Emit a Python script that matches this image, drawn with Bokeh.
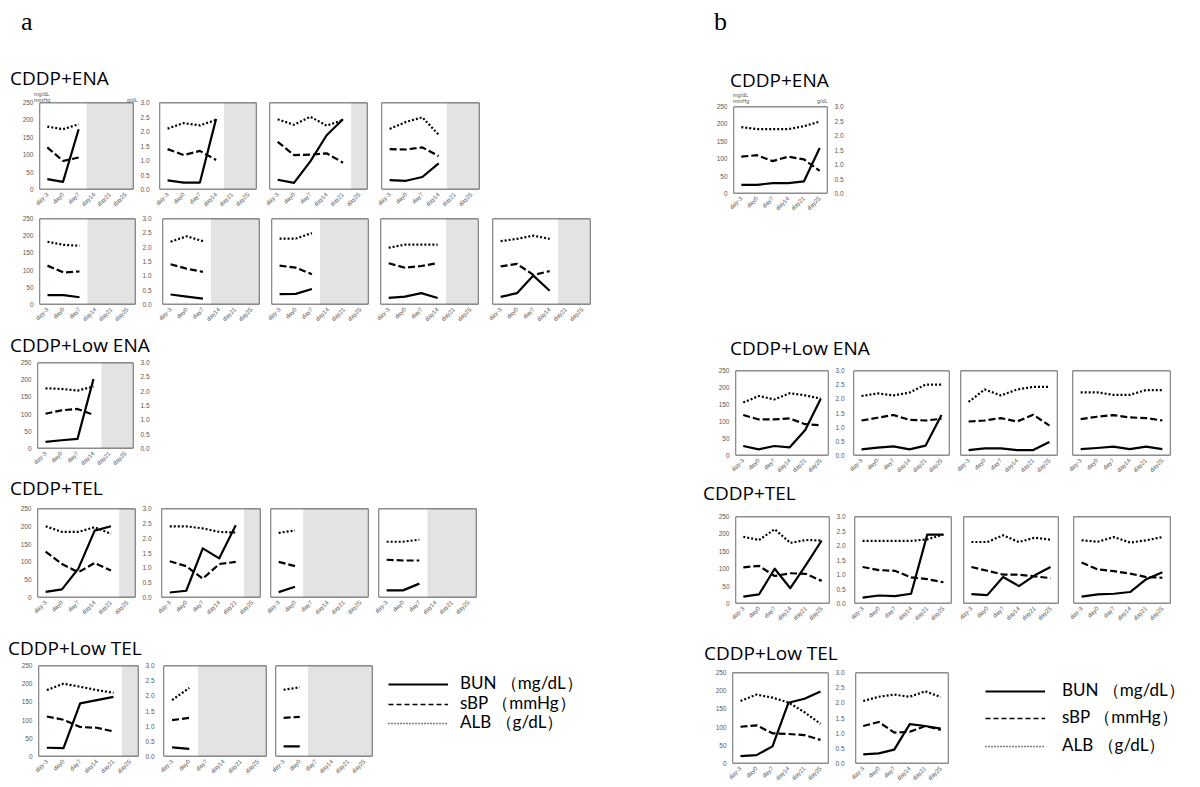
import math
from bokeh.plotting import figure
from bokeh.models import (Range1d, FactorRange, LinearAxis, FixedTicker, NumeralTickFormatter,
                          BoxAnnotation, Div, Spacer, Legend, LegendItem)
from bokeh.layouts import row, column
from bokeh.embed import file_html
from bokeh.resources import INLINE

# ---------------- data ----------------
DAYS = ["day-3", "day0", "day7", "day14", "day21", "day25"]
BUN_TICKS = [0, 50, 100, 150, 200, 250]
ALB_TICKS = [0.0, 0.5, 1.0, 1.5, 2.0, 2.5, 3.0]
LEGEND_LABELS = ["BUN （mg/dL）", "sBP （mmHg）", "ALB （g/dL）"]
UNIT_LEFT = ["mg/dL", "mmHg"]
UNIT_RIGHT = "g/dL"
PANEL_TAGS = ["a", "b"]
GROUPS = ["CDDP+ENA", "CDDP+Low ENA", "CDDP+TEL", "CDDP+Low TEL"]

# panel a, CDDP+ENA (9 animals)
a_ena1_bun = [30, 22, 173];            a_ena1_sbp = [121, 82, 92];            a_ena1_alb = [2.17, 2.08, 2.25]
a_ena2_bun = [26, 20, 20, 203];        a_ena2_sbp = [116, 99, 111, 85];       a_ena2_alb = [2.10, 2.29, 2.21, 2.40]
a_ena3_bun = [28, 19, 81, 156, 202];   a_ena3_sbp = [137, 99, 100, 104, 77];  a_ena3_alb = [2.42, 2.23, 2.51, 2.20, 2.40]
a_ena4_bun = [27, 25, 36, 75];         a_ena4_sbp = [116, 115, 121, 96];      a_ena4_alb = [2.09, 2.33, 2.49, 1.89]
a_ena5_bun = [27, 27, 21];             a_ena5_sbp = [113, 93, 96];            a_ena5_alb = [2.19, 2.08, 2.05]
a_ena6_bun = [29, 23, 17];             a_ena6_sbp = [117, 104, 95];           a_ena6_alb = [2.19, 2.38, 2.21]
a_ena7_bun = [30, 31, 45];             a_ena7_sbp = [113, 107, 88];           a_ena7_alb = [2.30, 2.30, 2.49]
a_ena8_bun = [19, 23, 33, 19];         a_ena8_sbp = [120, 107, 112, 120];     a_ena8_alb = [1.98, 2.09, 2.09, 2.09]
a_ena9_bun = [22, 33, 84, 40];         a_ena9_sbp = [111, 118, 86, 97];       a_ena9_alb = [2.21, 2.29, 2.40, 2.29]
# panel a, CDDP+Low ENA
a_lena1_bun = [19, 24, 28, 202];       a_lena1_sbp = [101, 111, 115, 98];     a_lena1_alb = [2.10, 2.08, 2.02, 2.16]
# panel a, CDDP+TEL
a_tel1_bun = [16, 23, 81, 188, 200];   a_tel1_sbp = [129, 94, 71, 97, 76];    a_tel1_alb = [2.40, 2.21, 2.21, 2.37, 2.15]
a_tel2_bun = [14, 19, 138, 110, 203];  a_tel2_sbp = [102, 88, 53, 94, 100];   a_tel2_alb = [2.40, 2.40, 2.33, 2.21, 2.19]
a_tel3_bun = [15, 30];                 a_tel3_sbp = [100, 88];                a_tel3_alb = [2.18, 2.26]
a_tel4_bun = [20, 20, 39];             a_tel4_sbp = [106, 104, 104];          a_tel4_alb = [1.88, 1.88, 1.95]
# panel a, CDDP+Low TEL
a_ltel1_bun = [24, 23, 146, 155, 164]; a_ltel1_sbp = [110, 101, 81, 79, 69];  a_ltel1_alb = [2.19, 2.40, 2.30, 2.19, 2.10]
a_ltel2_bun = [25, 21];                a_ltel2_sbp = [100, 106];              a_ltel2_alb = [1.86, 2.26]
a_ltel3_bun = [28, 28];                a_ltel3_sbp = [106, 109];              a_ltel3_alb = [2.20, 2.28]

# panel b
b_ena1_bun = [25, 25, 30, 30, 35, 131];     b_ena1_sbp = [106, 110, 93, 106, 98, 65];    b_ena1_alb = [2.29, 2.22, 2.22, 2.22, 2.32, 2.48]
b_lena1_bun = [28, 18, 28, 24, 75, 167];    b_lena1_sbp = [119, 106, 106, 109, 92, 89];  b_lena1_alb = [1.87, 2.10, 1.98, 2.20, 2.12, 2.01]
b_lena2_bun = [18, 23, 27, 18, 29, 119];    b_lena2_sbp = [103, 111, 119, 105, 103, 108]; b_lena2_alb = [2.10, 2.19, 2.12, 2.22, 2.50, 2.50]
b_lena3_bun = [16, 21, 21, 16, 16, 40];     b_lena3_sbp = [100, 103, 110, 100, 120, 88]; b_lena3_alb = [1.89, 2.33, 2.12, 2.33, 2.42, 2.42]
b_lena4_bun = [19, 22, 26, 19, 26, 19];     b_lena4_sbp = [107, 114, 119, 112, 110, 103]; b_lena4_alb = [2.23, 2.23, 2.14, 2.14, 2.31, 2.31]
b_tel1_bun = [20, 26, 100, 44, 111, 181];   b_tel1_sbp = [104, 108, 79, 87, 85, 65];     b_tel1_alb = [2.30, 2.19, 2.56, 2.09, 2.19, 2.17]
b_tel2_bun = [17, 23, 21, 28, 198, 198];    b_tel2_sbp = [105, 96, 94, 75, 70, 61];      b_tel2_alb = [2.16, 2.16, 2.16, 2.16, 2.21, 2.38]
b_tel3_bun = [27, 24, 76, 50, 81, 105];     b_tel3_sbp = [105, 94, 83, 83, 78, 73];      b_tel3_alb = [2.12, 2.12, 2.35, 2.12, 2.27, 2.20]
b_tel4_bun = [20, 26, 28, 33, 70, 90];      b_tel4_sbp = [118, 98, 93, 86, 76, 74];      b_tel4_alb = [2.18, 2.13, 2.29, 2.10, 2.18, 2.29]
b_ltel1_bun = [20, 23, 47, 167, 178, 198];  b_ltel1_sbp = [101, 105, 83, 81, 78, 65];    b_ltel1_alb = [2.06, 2.27, 2.17, 2.01, 1.69, 1.31]
b_ltel2_bun = [25, 28, 38, 108, 103, 96];   b_ltel2_sbp = [103, 114, 85, 87, 103, 92];   b_ltel2_alb = [2.06, 2.20, 2.27, 2.20, 2.38, 2.19]

# ---------------- styles ----------------
TICK_FONT = "Liberation Sans"
TICK_COLOR = "#595959"
LINE_W = 2.2
SHADE = "#e3e3e3"
FRAME_COLOR = "#1a1a1a"
TITLE_FONT = "'Open Sans', sans-serif"
TAG_FONT = "'Liberation Serif', serif"
NAN = float("nan")
LEGEND_SHIFT = 24  # empirical correction of the legend anchor


def style_axis(ax, size):
    ax.axis_line_color = None
    ax.major_tick_line_color = None
    ax.minor_tick_line_color = None
    ax.major_tick_out = 0
    ax.major_tick_in = 0
    ax.minor_tick_out = 0
    ax.minor_tick_in = 0
    ax.major_label_text_font = TICK_FONT
    ax.major_label_text_font_size = size
    ax.major_label_text_color = TICK_COLOR


def panel(series, frame, x0, x1, top, h, axes=False):
    bun, sbp, alb = series
    l, t, r, b = frame
    n = len(bun)
    p = figure(width=x1 - x0, height=h,
               x_range=FactorRange(factors=DAYS, range_padding=0, factor_padding=0),
               y_range=Range1d(BUN_TICKS[0], BUN_TICKS[-1]),
               min_border_left=l - x0, min_border_right=x1 - r,
               min_border_top=t - top, min_border_bottom=top + h - b,
               y_axis_location="left" if axes else None,
               output_backend="svg", toolbar_location=None)
    p.extra_y_ranges = {"alb": Range1d(ALB_TICKS[0], ALB_TICKS[-1])}
    p.outline_line_color = None
    p.border_fill_color = None
    p.background_fill_color = "white"
    p.xgrid.visible = False
    p.ygrid.visible = False

    xa = p.xaxis[0]
    style_axis(xa, "6px")
    xa.major_label_orientation = math.pi / 4
    xa.major_label_standoff = 4

    if axes:
        ya = p.yaxis[0]
        ya.ticker = FixedTicker(ticks=BUN_TICKS)
        style_axis(ya, "6.5px")
        ya.major_label_standoff = 6
        ra = LinearAxis(y_range_name="alb", ticker=FixedTicker(ticks=ALB_TICKS),
                        formatter=NumeralTickFormatter(format="0.0"))
        style_axis(ra, "6.5px")
        ra.major_label_standoff = 7
        p.add_layout(ra, "right")

    if n < len(DAYS):
        p.add_layout(BoxAnnotation(left=float(n), fill_color=SHADE, fill_alpha=1.0,
                                   line_color=None, level="underlay"))

    x = DAYS[:n]
    p.line(x, bun, line_color="black", line_width=LINE_W, line_join="round")
    p.line(x, sbp, line_color="black", line_width=LINE_W, line_dash="7 3")
    p.line(x, alb, line_color="black", line_width=LINE_W, line_dash="2 2",
           y_range_name="alb")

    p.add_layout(BoxAnnotation(fill_alpha=0, line_color=FRAME_COLOR, line_alpha=1.0,
                               line_width=1.3, level="overlay"))
    return p


def legend_fig(x0, x1, top, h, glyph_left, centers, standoff, fsize):
    p = figure(width=x1 - x0, height=h, x_range=Range1d(0, 1), y_range=Range1d(0, 1),
               min_border_left=0, min_border_top=0, min_border_right=0, min_border_bottom=0,
               x_axis_location=None, y_axis_location=None,
               output_backend="svg", toolbar_location=None)
    p.outline_line_color = None
    p.border_fill_color = None
    p.background_fill_color = None
    p.xgrid.visible = False
    p.ygrid.visible = False
    styles = [dict(line_width=2), dict(line_width=1.4, line_dash="5 3"),
              dict(line_width=1.4, line_dash="1 2")]
    item_h = 22
    for label, st, c in zip(LEGEND_LABELS, styles, centers):
        r = p.line([NAN], [NAN], line_color="black", **st)
        leg = Legend(items=[LegendItem(label=label, renderers=[r])],
                     location=(glyph_left - x0, top + h - c - item_h / 2 - LEGEND_SHIFT),
                     margin=0, padding=0, spacing=0,
                     glyph_width=60, glyph_height=18, label_height=18,
                     label_standoff=standoff, label_text_font="Lato",
                     label_text_font_size=fsize, label_text_color="black",
                     label_text_baseline="middle",
                     border_line_color=None, background_fill_alpha=0)
        p.add_layout(leg)
    return p


def band(col_x, top, h, specs, tail=None):
    figs = []
    x0 = col_x
    for i, sp in enumerate(specs):
        l, t, r, b = sp["frame"]
        if i + 1 < len(specs):
            x1 = specs[i + 1]["frame"][0] - 6
        elif tail is not None:
            x1 = r + 6
        else:
            x1 = r + 30 if sp.get("axes") else r + 6
        figs.append(panel(sp["data"], sp["frame"], x0, x1, top, h, axes=sp.get("axes", False)))
        x0 = x1
    if tail is not None:
        figs.append(tail(x0))
    return row(*figs, spacing=0)


def unit_span(txt, left, cy):
    return (f'<span style="position:absolute;left:{left}px;top:{cy - 3}px;'
            f'font-family:\'Liberation Sans\';font-size:5.5px;line-height:6px;'
            f'color:{TICK_COLOR};white-space:nowrap">{txt}</span>')


def text_div(txt, width, height, baseline, pad, family, size, extra=""):
    # place the text so that its baseline sits at `baseline` px below the div top
    lh = round(size * 1.4)
    pt = baseline - lh / 2 - size * 0.34
    html = (f'<div style="position:relative;height:{height}px;margin:0">'
            f'<div style="position:absolute;left:{pad}px;top:{pt:.1f}px;font-family:{family};'
            f'font-size:{size}px;line-height:{lh}px;white-space:nowrap;color:#000">{txt}</div>'
            f'{extra}</div>')
    return Div(text=html, width=width, height=height, margin=0, styles={"overflow": "visible"})


# ---------------- column a (page x 0..700) ----------------
AX, AW = 0, 700
units_a = (unit_span(UNIT_LEFT[0], 34, 94 - 50) + unit_span(UNIT_LEFT[1], 34, 100 - 50)
           + unit_span(UNIT_RIGHT, 127, 99.5 - 50))
colA = column(
    text_div(PANEL_TAGS[0], AW, 50, 31, 21, TAG_FONT, 26),
    text_div(GROUPS[0], AW, 36, 85 - 50, 10, TITLE_FONT, 19, units_a),
    band(AX, 86, 127, [
        dict(frame=(39, 102, 133, 189), data=(a_ena1_bun, a_ena1_sbp, a_ena1_alb), axes=True),
        dict(frame=(159, 101, 256, 189), data=(a_ena2_bun, a_ena2_sbp, a_ena2_alb)),
        dict(frame=(269, 102, 367, 192), data=(a_ena3_bun, a_ena3_sbp, a_ena3_alb)),
        dict(frame=(381, 101, 479, 193), data=(a_ena4_bun, a_ena4_sbp, a_ena4_alb)),
    ]),
    band(AX, 213, 115, [
        dict(frame=(39, 218, 135, 305), data=(a_ena5_bun, a_ena5_sbp, a_ena5_alb), axes=True),
        dict(frame=(162, 215, 259, 304), data=(a_ena6_bun, a_ena6_sbp, a_ena6_alb)),
        dict(frame=(271, 216, 368, 306), data=(a_ena7_bun, a_ena7_sbp, a_ena7_alb)),
        dict(frame=(380, 214, 478, 304), data=(a_ena8_bun, a_ena8_sbp, a_ena8_alb)),
        dict(frame=(492, 215, 590, 306), data=(a_ena9_bun, a_ena9_sbp, a_ena9_alb)),
    ]),
    text_div(GROUPS[1], AW, 30, 352 - 328, 10, TITLE_FONT, 19),
    band(AX, 358, 114, [
        dict(frame=(37, 362, 133, 448), data=(a_lena1_bun, a_lena1_sbp, a_lena1_alb), axes=True),
    ]),
    text_div(GROUPS[2], AW, 30, 495 - 472, 10, TITLE_FONT, 19),
    band(AX, 502, 120, [
        dict(frame=(37, 507, 135, 598), data=(a_tel1_bun, a_tel1_sbp, a_tel1_alb), axes=True),
        dict(frame=(161, 508, 260, 597), data=(a_tel2_bun, a_tel2_sbp, a_tel2_alb)),
        dict(frame=(270, 507, 368, 598), data=(a_tel3_bun, a_tel3_sbp, a_tel3_alb)),
        dict(frame=(378, 507, 476, 598), data=(a_tel4_bun, a_tel4_sbp, a_tel4_alb)),
    ]),
    text_div(GROUPS[3], AW, 37, 655 - 622, 8, TITLE_FONT, 19),
    band(AX, 659, 120, [
        dict(frame=(38, 665, 138, 757), data=(a_ltel1_bun, a_ltel1_sbp, a_ltel1_alb), axes=True),
        dict(frame=(163, 663, 266, 758), data=(a_ltel2_bun, a_ltel2_sbp, a_ltel2_alb)),
        dict(frame=(275, 663, 372, 757), data=(a_ltel3_bun, a_ltel3_sbp, a_ltel3_alb)),
    ], tail=lambda x0: legend_fig(x0, AX + AW, 659, 120, 388, (683, 703, 722), 12, "17px")),
    spacing=0,
)

# ---------------- column b (page x 700..1195) ----------------
BX, BW = 700, 495
units_b = (unit_span(UNIT_LEFT[0], 33, 95 - 50) + unit_span(UNIT_LEFT[1], 33, 101 - 50)
           + unit_span(UNIT_RIGHT, 117, 101 - 50))
colB = column(
    text_div(PANEL_TAGS[1], BW, 50, 31, 14, TAG_FONT, 26),
    text_div(GROUPS[0], BW, 38, 87 - 50, 30, TITLE_FONT, 19, units_b),
    band(BX, 88, 128, [
        dict(frame=(733, 106, 827, 194), data=(b_ena1_bun, b_ena1_sbp, b_ena1_alb), axes=True),
    ]),
    Spacer(width=BW, height=114),
    text_div(GROUPS[1], BW, 34, 355 - 330, 30, TITLE_FONT, 19),
    band(BX, 364, 114, [
        dict(frame=(735, 370, 829, 456), data=(b_lena1_bun, b_lena1_sbp, b_lena1_alb), axes=True),
        dict(frame=(853, 369, 949, 456), data=(b_lena2_bun, b_lena2_sbp, b_lena2_alb)),
        dict(frame=(960, 369, 1057, 456), data=(b_lena3_bun, b_lena3_sbp, b_lena3_alb)),
        dict(frame=(1072, 368, 1170, 455), data=(b_lena4_bun, b_lena4_sbp, b_lena4_alb)),
    ]),
    text_div(GROUPS[2], BW, 30, 500 - 478, 3, TITLE_FONT, 19),
    band(BX, 508, 119, [
        dict(frame=(735, 513, 829, 603), data=(b_tel1_bun, b_tel1_sbp, b_tel1_alb), axes=True),
        dict(frame=(854, 514, 951, 603), data=(b_tel2_bun, b_tel2_sbp, b_tel2_alb)),
        dict(frame=(963, 516, 1058, 603), data=(b_tel3_bun, b_tel3_sbp, b_tel3_alb)),
        dict(frame=(1073, 514, 1170, 603), data=(b_tel4_bun, b_tel4_sbp, b_tel4_alb)),
    ]),
    text_div(GROUPS[3], BW, 39, 660 - 627, 4, TITLE_FONT, 19),
    band(BX, 666, 120, [
        dict(frame=(732, 672, 828, 766), data=(b_ltel1_bun, b_ltel1_sbp, b_ltel1_alb), axes=True),
        dict(frame=(855, 672, 948, 766), data=(b_ltel2_bun, b_ltel2_sbp, b_ltel2_alb)),
    ], tail=lambda x0: legend_fig(x0, BX + BW, 666, 120, 985, (690, 717, 745), 17, "17px")),
    spacing=0,
)

page = row(colA, colB, spacing=0)
open("out.html", "w").write(file_html(page, INLINE))
